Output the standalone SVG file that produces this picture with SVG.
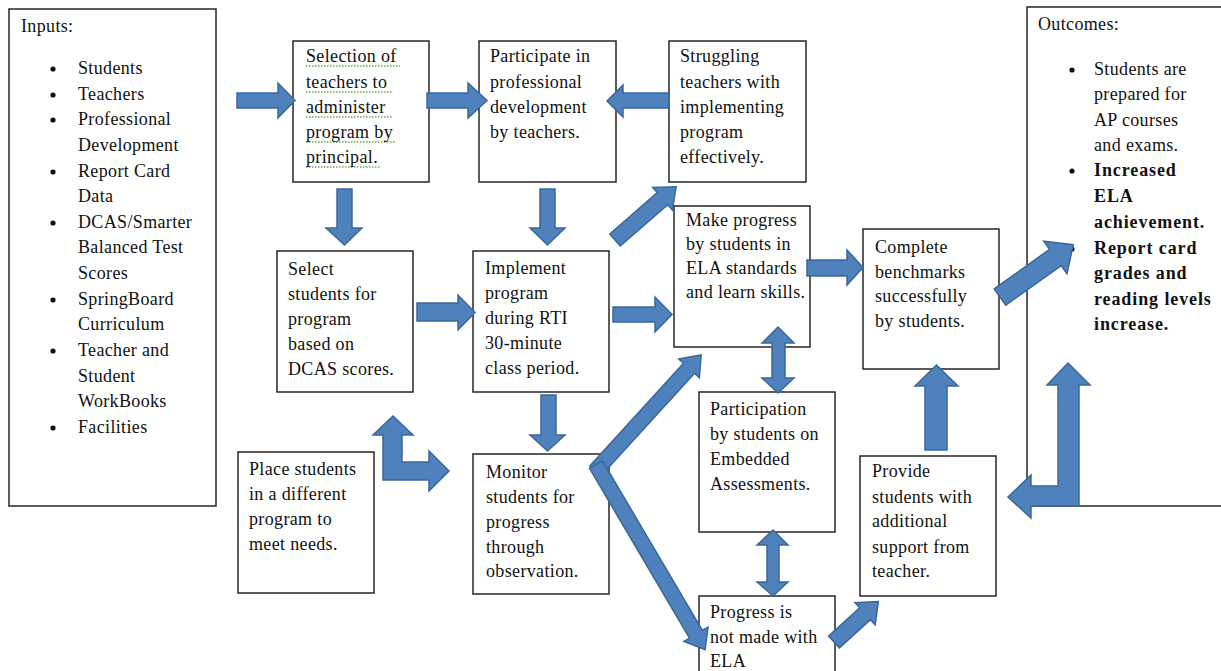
<svg xmlns="http://www.w3.org/2000/svg" width="1221" height="671" viewBox="0 0 1221 671">
<style>
.box{fill:#fff;stroke:#262626;stroke-width:1.5}
.t{font-family:"Liberation Serif","Times New Roman",serif;font-size:18px;fill:#111;letter-spacing:0.35px}
.b{font-weight:bold;letter-spacing:0.9px}
.arr{fill:#4F81BD;stroke:#3A6898;stroke-width:1.5;stroke-linejoin:miter}
.sp{stroke:#6aa84f;stroke-width:1.3;stroke-dasharray:1.5 1.5;fill:none}
.dot{fill:#111}
</style>
<rect width="1221" height="671" fill="#fff"/>

<g id="inputs">
<rect class="box" x="9" y="9" width="207" height="497"/>
<text class="t" x="21" y="32">Inputs:</text>
<circle class="dot" cx="53" cy="69" r="2.6"/><circle class="dot" cx="53" cy="95" r="2.6"/><circle class="dot" cx="53" cy="120" r="2.6"/><circle class="dot" cx="53" cy="172" r="2.6"/><circle class="dot" cx="53" cy="223" r="2.6"/><circle class="dot" cx="53" cy="300" r="2.6"/><circle class="dot" cx="53" cy="351" r="2.6"/><circle class="dot" cx="53" cy="428" r="2.6"/>
<text class="t"><tspan x="78" y="74">Students</tspan><tspan x="78" y="100">Teachers</tspan><tspan x="78" y="125">Professional</tspan><tspan x="78" y="151">Development</tspan><tspan x="78" y="177">Report Card</tspan><tspan x="78" y="202">Data</tspan><tspan x="78" y="228">DCAS/Smarter</tspan><tspan x="78" y="253">Balanced Test</tspan><tspan x="78" y="279">Scores</tspan><tspan x="78" y="305">SpringBoard</tspan><tspan x="78" y="330">Curriculum</tspan><tspan x="78" y="356">Teacher and</tspan><tspan x="78" y="382">Student</tspan><tspan x="78" y="407">WorkBooks</tspan><tspan x="78" y="433">Facilities</tspan></text>
</g>

<g id="selection">
<rect class="box" x="293" y="41" width="136" height="141"/>
<path class="sp" d="M306 66H400M306 92H393M306 117H392M306 142H396M306 167H380"/>
<text class="t"><tspan x="306" y="62">Selection of</tspan><tspan x="306" y="88">teachers to</tspan><tspan x="306" y="113">administer</tspan><tspan x="306" y="138">program by</tspan><tspan x="306" y="163">principal.</tspan></text>
</g>

<g id="participate">
<rect class="box" x="479" y="41" width="137" height="141"/>
<text class="t"><tspan x="490" y="62">Participate in</tspan><tspan x="490" y="88">professional</tspan><tspan x="490" y="113">development</tspan><tspan x="490" y="138">by teachers.</tspan></text>
</g>

<g id="struggling">
<rect class="box" x="669" y="41" width="137" height="141"/>
<text class="t"><tspan x="680" y="62">Struggling</tspan><tspan x="680" y="88">teachers with</tspan><tspan x="680" y="113">implementing</tspan><tspan x="680" y="138">program</tspan><tspan x="680" y="163">effectively.</tspan></text>
</g>

<g id="outcomes">
<rect class="box" x="1027" y="7" width="200" height="499"/>
<text class="t" x="1038" y="30">Outcomes:</text>
<circle class="dot" cx="1072" cy="70" r="2.6"/><circle class="dot" cx="1072" cy="171" r="2.6"/><circle class="dot" cx="1072" cy="249" r="2.6"/>
<text class="t"><tspan x="1094" y="75">Students are</tspan><tspan x="1094" y="100">prepared for</tspan><tspan x="1094" y="126">AP courses</tspan><tspan x="1094" y="151">and exams.</tspan></text>
<text class="t b"><tspan x="1094" y="176">Increased</tspan><tspan x="1094" y="202">ELA</tspan><tspan x="1094" y="228">achievement.</tspan><tspan x="1094" y="254">Report card</tspan><tspan x="1094" y="279">grades and</tspan><tspan x="1094" y="305">reading levels</tspan><tspan x="1094" y="330">increase.</tspan></text>
</g>

<g id="select-students">
<rect class="box" x="277" y="251" width="136" height="141"/>
<text class="t"><tspan x="288" y="275">Select</tspan><tspan x="288" y="300">students for</tspan><tspan x="288" y="325">program</tspan><tspan x="288" y="350">based on</tspan><tspan x="288" y="375">DCAS scores.</tspan></text>
</g>

<g id="implement">
<rect class="box" x="473" y="251" width="136" height="141"/>
<text class="t"><tspan x="485" y="274">Implement</tspan><tspan x="485" y="299">program</tspan><tspan x="485" y="324">during RTI</tspan><tspan x="485" y="349">30-minute</tspan><tspan x="485" y="374">class period.</tspan></text>
</g>

<g id="make-progress">
<rect class="box" x="674" y="206" width="136" height="141"/>
<text class="t"><tspan x="686" y="226">Make progress</tspan><tspan x="686" y="250">by students in</tspan><tspan x="686" y="274">ELA standards</tspan><tspan x="686" y="298">and learn skills.</tspan></text>
</g>

<g id="complete">
<rect class="box" x="863" y="229" width="136" height="140"/>
<text class="t"><tspan x="875" y="253">Complete</tspan><tspan x="875" y="278">benchmarks</tspan><tspan x="875" y="302">successfully</tspan><tspan x="875" y="327">by students.</tspan></text>
</g>

<g id="place">
<rect class="box" x="238" y="452" width="136" height="141"/>
<text class="t"><tspan x="249" y="475">Place students</tspan><tspan x="249" y="500">in a different</tspan><tspan x="249" y="525">program to</tspan><tspan x="249" y="550">meet needs.</tspan></text>
</g>

<g id="monitor">
<rect class="box" x="473" y="454" width="136" height="140"/>
<text class="t"><tspan x="486" y="478">Monitor</tspan><tspan x="486" y="503">students for</tspan><tspan x="486" y="528">progress</tspan><tspan x="486" y="553">through</tspan><tspan x="486" y="577">observation.</tspan></text>
</g>

<g id="participation">
<rect class="box" x="699" y="392" width="136" height="140"/>
<text class="t"><tspan x="710" y="415">Participation</tspan><tspan x="710" y="440">by students on</tspan><tspan x="710" y="465">Embedded</tspan><tspan x="710" y="490">Assessments.</tspan></text>
</g>

<g id="provide">
<rect class="box" x="860" y="456" width="136" height="140"/>
<text class="t"><tspan x="872" y="477">Provide</tspan><tspan x="872" y="503">students with</tspan><tspan x="872" y="527">additional</tspan><tspan x="872" y="553">support from</tspan><tspan x="872" y="577">teacher.</tspan></text>
</g>

<g id="not-made">
<rect class="box" x="699" y="596" width="136" height="90"/>
<text class="t"><tspan x="710" y="618">Progress is</tspan><tspan x="710" y="643">not made with</tspan><tspan x="710" y="667">ELA</tspan></text>
</g>

<g id="connectors">
<polygon class="arr" points="237,93 278,93 278,83 295,100.5 278,118 278,108 237,108"/>
<polygon class="arr" points="427,93 468,93 468,83 487,100.5 468,118 468,108 427,108"/>
<polygon class="arr" points="669,93 623,93 623,85 607,101 623,117 623,108 669,108"/>
<polygon class="arr" points="337,189 352,189 352,228 362,228 344.5,245 326,228 337,228"/>
<polygon class="arr" points="540,189 555,189 555,228 565,228 547.5,245 530,228 540,228"/>
<polygon class="arr" points="417,303 458,303 458,295 475,312.5 458,330 458,321 417,321"/>
<polygon class="arr" points="613,307 655,307 655,297 672,314.5 655,332 655,322 613,322"/>
<polygon class="arr" points="807,260 847,260 847,250 863,267.5 847,285 847,276 807,276"/>
<polygon class="arr" points="541,395 556,395 556,435 565,435 547.5,451 530,435 541,435"/>
<polygon class="arr" points="925,450 947,450 947,386 958,386 936.5,365 915,386 925,386"/>
<polygon class="arr" points="778,327 794,343 785,343 785,378 794,378 778,393 762,378 772,378 772,343 762,343"/>
<polygon class="arr" points="773,530 788,545 779,545 779,582 788,582 773,596 757,582 767,582 767,545 757,545"/>
<polygon class="arr" points="393,416 413,435 402,435 402,462 429,462 429,451 449,471 429,491 429,480 383,480 383,435 373,435"/>
<polygon class="arr" points="1068,363 1090,385 1079,385 1079,506 1031,506 1031,518 1008,497 1031,475 1031,486 1058,486 1058,385 1047,385"/>
<polygon class="arr" points="0,-8 63,-8 63,-15 81,0 63,15 63,8 0,8" transform="translate(615,240) rotate(-41)"/>
<polygon class="arr" points="0,-10 68,-10 68,-20 90,0 68,20 68,10 0,10" transform="translate(1000,297) rotate(-35.5)"/>
<polygon class="arr" points="0,-8 42,-8 42,-15 60,0 42,15 42,8 0,8" transform="translate(834,642) rotate(-42.3)"/>
<polygon class="arr" points="-4,-7.5 135,-7.5 135,-14 153,0 135,14 135,7.5 -4,7.5" transform="translate(598,468) rotate(-47.6)"/>
<polygon class="arr" points="-4,-7.5 193,-7.5 193,-14 211,0 193,14 193,7.5 -4,7.5" transform="translate(598,468) rotate(59.5)"/>
</g>
</svg>
